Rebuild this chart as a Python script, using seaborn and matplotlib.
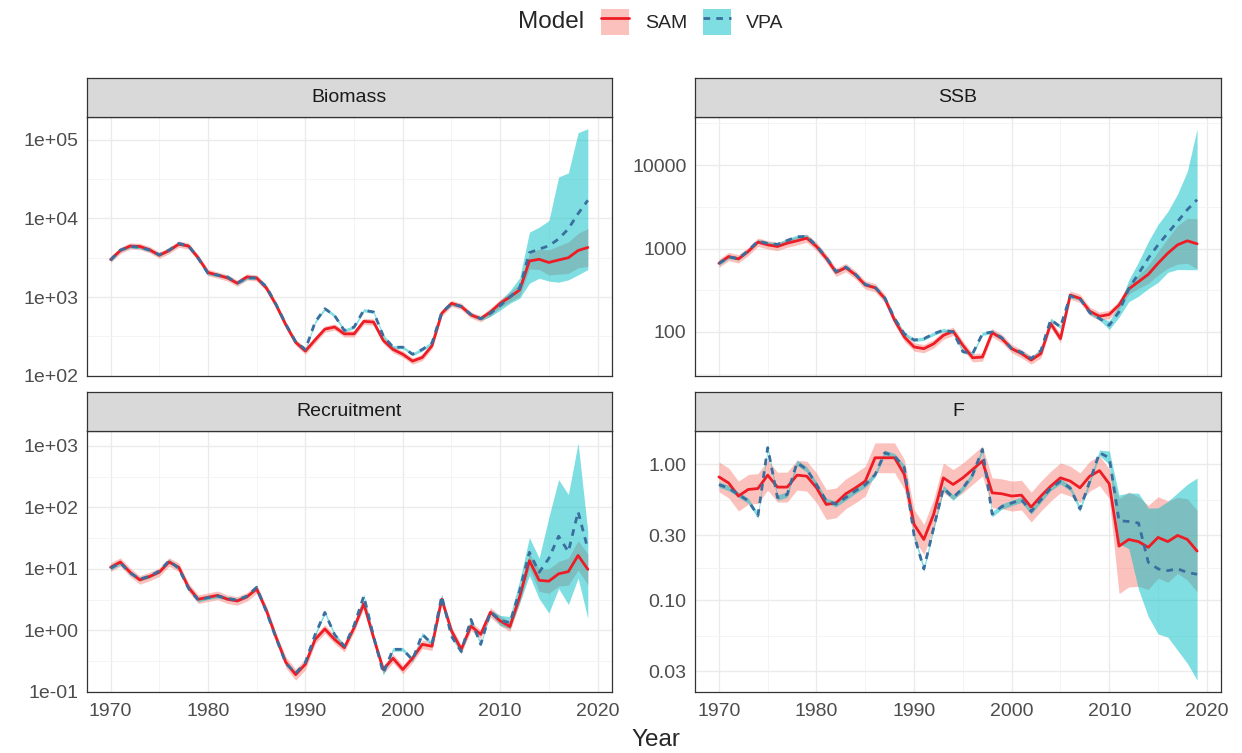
import numpy as np
import pandas as pd
import matplotlib
matplotlib.use("Agg")
import matplotlib.pyplot as plt
import seaborn as sns
from matplotlib.patches import Patch
from matplotlib.lines import Line2D
from matplotlib.legend_handler import HandlerTuple
from matplotlib.ticker import FixedLocator, FixedFormatter, NullFormatter

# ---------------- data ----------------
years = list(range(1970, 2020))
models = ["SAM", "VPA"]
panel_names = ["Biomass", "SSB", "Recruitment", "F"]

sam_biomass = [3000, 3900, 4450, 4400, 4000, 3400, 3900, 4700, 4450, 3150,
               2050, 1900, 1750, 1500, 1800, 1750, 1300, 790, 440, 265,
               205, 285, 390, 415, 340, 340, 490, 480, 280, 215,
               187, 153, 170, 240, 620, 830, 760, 590, 530, 645,
               830, 1000, 1230, 2870, 3020, 2750, 2960, 3160, 3900, 4270]
vpa_biomass = [2950, 3950, 4400, 4300, 3950, 3450, 3950, 4800, 4500, 3100,
               2000, 1900, 1800, 1500, 1750, 1750, 1350, 800, 450, 270,
               215, 480, 710, 580, 375, 415, 680, 645, 320, 230,
               230, 187, 215, 260, 640, 820, 760, 600, 530, 620,
               780, 1000, 1300, 3670, 4060, 4490, 5470, 7380, 11500, 17000]
sam_biomass_w = [0.04, 0.04, 0.04, 0.04, 0.04, 0.04, 0.04, 0.04, 0.04, 0.04,
                 0.04, 0.04, 0.04, 0.04, 0.04, 0.04, 0.04, 0.04, 0.04, 0.04,
                 0.04, 0.04, 0.04, 0.04, 0.04, 0.04, 0.04, 0.04, 0.04, 0.04,
                 0.04, 0.04, 0.04, 0.04, 0.04, 0.04, 0.04, 0.04, 0.04, 0.05,
                 0.05, 0.06, 0.08, 0.10, 0.13, 0.16, 0.18, 0.20, 0.22, 0.24]
vpa_biomass_lo = [0.02, 0.02, 0.02, 0.02, 0.02, 0.02, 0.02, 0.02, 0.02, 0.02,
                  0.02, 0.02, 0.02, 0.02, 0.02, 0.02, 0.02, 0.02, 0.02, 0.02,
                  0.02, 0.02, 0.02, 0.02, 0.02, 0.02, 0.02, 0.02, 0.02, 0.02,
                  0.02, 0.02, 0.02, 0.02, 0.02, 0.02, 0.02, 0.02, 0.02, 0.04,
                  0.06, 0.08, 0.13, 0.39, 0.37, 0.45, 0.55, 0.65, 0.78, 0.88]
vpa_biomass_hi = [0.02, 0.02, 0.02, 0.02, 0.02, 0.02, 0.02, 0.02, 0.02, 0.02,
                  0.02, 0.02, 0.02, 0.02, 0.02, 0.02, 0.02, 0.02, 0.02, 0.02,
                  0.02, 0.02, 0.02, 0.02, 0.02, 0.02, 0.02, 0.02, 0.02, 0.02,
                  0.02, 0.02, 0.02, 0.02, 0.02, 0.02, 0.02, 0.02, 0.02, 0.04,
                  0.06, 0.08, 0.13, 0.26, 0.28, 0.32, 0.79, 0.71, 1.03, 0.91]

sam_ssb = [665, 802, 751, 921, 1192, 1107, 1057, 1159, 1237, 1331,
           1057, 765, 518, 590, 482, 365, 339, 252, 138, 87,
           66, 63, 72, 91, 102, 69, 49, 50, 98, 83,
           63, 55, 46, 55, 126, 83, 277, 252, 177, 154,
           162, 210, 327, 400, 490, 665, 879, 1107, 1237, 1138]
vpa_ssb = [660, 790, 760, 940, 1230, 1150, 1120, 1250, 1380, 1400,
           1080, 780, 530, 600, 490, 370, 345, 255, 145, 95,
           80, 83, 95, 105, 100, 58, 55, 95, 100, 85,
           63, 57, 48, 60, 140, 115, 270, 250, 170, 145,
           120, 174, 330, 500, 765, 1107, 1530, 2107, 2925, 3850]
sam_ssb_w = [0.05, 0.05, 0.05, 0.05, 0.05, 0.05, 0.05, 0.05, 0.05, 0.05,
             0.05, 0.05, 0.05, 0.05, 0.05, 0.05, 0.05, 0.05, 0.05, 0.05,
             0.05, 0.05, 0.05, 0.05, 0.05, 0.05, 0.05, 0.05, 0.05, 0.05,
             0.05, 0.05, 0.05, 0.05, 0.05, 0.05, 0.05, 0.05, 0.05, 0.05,
             0.05, 0.05, 0.06, 0.08, 0.11, 0.14, 0.18, 0.23, 0.27, 0.30]
vpa_ssb_lo = [0.02, 0.02, 0.02, 0.02, 0.02, 0.02, 0.02, 0.02, 0.02, 0.02,
              0.02, 0.02, 0.02, 0.02, 0.02, 0.02, 0.02, 0.02, 0.02, 0.02,
              0.02, 0.02, 0.02, 0.02, 0.02, 0.02, 0.02, 0.02, 0.02, 0.02,
              0.02, 0.02, 0.02, 0.02, 0.02, 0.02, 0.02, 0.02, 0.02, 0.02,
              0.05, 0.064, 0.157, 0.27, 0.365, 0.45, 0.47, 0.575, 0.72, 0.84]
vpa_ssb_hi = [0.02, 0.02, 0.02, 0.02, 0.02, 0.02, 0.02, 0.02, 0.02, 0.02,
              0.02, 0.02, 0.02, 0.02, 0.02, 0.02, 0.02, 0.02, 0.02, 0.02,
              0.02, 0.02, 0.02, 0.02, 0.02, 0.02, 0.02, 0.02, 0.02, 0.02,
              0.02, 0.02, 0.02, 0.02, 0.02, 0.02, 0.02, 0.02, 0.02, 0.02,
              0.05, 0.08, 0.105, 0.14, 0.20, 0.245, 0.26, 0.33, 0.46, 0.85]

sam_rec = [10.6, 12.9, 8.8, 6.6, 7.5, 8.8, 12.9, 10.6, 5.0, 3.2,
           3.45, 3.7, 3.2, 3.0, 3.5, 4.7, 2.1, 0.76, 0.30, 0.19,
           0.28, 0.71, 1.05, 0.71, 0.52, 1.1, 2.7, 0.76, 0.23, 0.35,
           0.23, 0.35, 0.59, 0.55, 3.2, 0.98, 0.49, 1.17, 0.86, 1.96,
           1.42, 1.15, 3.5, 13.6, 6.5, 6.3, 8.3, 9.0, 16.5, 9.8]
vpa_rec = [10.2, 12.5, 8.6, 6.8, 7.6, 9.2, 13.5, 10.2, 4.8, 3.1,
           3.4, 3.6, 3.3, 3.1, 3.6, 5.0, 2.0, 0.74, 0.29, 0.20,
           0.30, 0.85, 1.95, 0.85, 0.55, 1.2, 3.6, 0.80, 0.20, 0.49,
           0.49, 0.33, 0.86, 0.60, 3.6, 0.80, 0.45, 1.5, 0.59, 2.0,
           1.45, 1.33, 4.4, 18.6, 8.8, 14.8, 34, 19, 85, 21]
sam_rec_w = [0.07, 0.07, 0.07, 0.07, 0.07, 0.07, 0.07, 0.07, 0.07, 0.07,
             0.07, 0.07, 0.07, 0.07, 0.07, 0.07, 0.07, 0.07, 0.09, 0.09,
             0.09, 0.07, 0.07, 0.07, 0.07, 0.07, 0.07, 0.07, 0.07, 0.07,
             0.07, 0.07, 0.07, 0.07, 0.07, 0.07, 0.07, 0.07, 0.07, 0.08,
             0.08, 0.08, 0.10, 0.12, 0.18, 0.20, 0.20, 0.22, 0.24, 0.25]
vpa_rec_lo = [0.03, 0.03, 0.03, 0.03, 0.03, 0.03, 0.03, 0.03, 0.03, 0.03,
              0.03, 0.03, 0.03, 0.03, 0.03, 0.03, 0.03, 0.03, 0.03, 0.03,
              0.03, 0.03, 0.03, 0.03, 0.03, 0.03, 0.03, 0.03, 0.03, 0.03,
              0.03, 0.03, 0.03, 0.03, 0.03, 0.03, 0.03, 0.03, 0.03, 0.03,
              0.08, 0.10, 0.20, 0.38, 0.43, 0.89, 0.85, 0.86, 1.08, 1.13]
vpa_rec_hi = [0.03, 0.03, 0.03, 0.03, 0.03, 0.03, 0.03, 0.03, 0.03, 0.03,
              0.03, 0.03, 0.03, 0.03, 0.03, 0.03, 0.03, 0.03, 0.03, 0.03,
              0.03, 0.03, 0.03, 0.03, 0.03, 0.03, 0.03, 0.03, 0.03, 0.03,
              0.03, 0.03, 0.03, 0.03, 0.03, 0.03, 0.03, 0.03, 0.03, 0.03,
              0.08, 0.10, 0.17, 0.24, 0.23, 0.67, 0.92, 0.93, 1.12, 0.28]

sam_f = [0.81, 0.73, 0.585, 0.654, 0.665, 0.834, 0.681, 0.681, 0.834, 0.82,
         0.673, 0.507, 0.521, 0.608, 0.673, 0.754, 1.12, 1.12, 1.12, 0.844,
         0.361, 0.28, 0.428, 0.797, 0.712, 0.797, 0.919, 1.06, 0.618, 0.608,
         0.585, 0.594, 0.485, 0.585, 0.692, 0.797, 0.754, 0.673, 0.82, 0.90,
         0.72, 0.25, 0.28, 0.27, 0.245, 0.29, 0.27, 0.30, 0.28, 0.23]
vpa_f = [0.71, 0.67, 0.60, 0.54, 0.42, 1.33, 0.57, 0.60, 1.03, 0.92,
         0.71, 0.54, 0.51, 0.57, 0.64, 0.71, 0.84, 1.22, 1.15, 0.95,
         0.30, 0.17, 0.34, 0.67, 0.57, 0.67, 0.84, 1.29, 0.43, 0.49,
         0.52, 0.55, 0.45, 0.55, 0.67, 0.75, 0.67, 0.47, 0.75, 1.22,
         1.12, 0.385, 0.38, 0.37, 0.19, 0.17, 0.165, 0.17, 0.16, 0.155]
sam_f_w = [0.11, 0.11, 0.11, 0.11, 0.11, 0.11, 0.11, 0.11, 0.11, 0.11,
           0.11, 0.11, 0.11, 0.11, 0.11, 0.11, 0.11, 0.11, 0.11, 0.11,
           0.11, 0.11, 0.11, 0.11, 0.11, 0.11, 0.11, 0.11, 0.11, 0.11,
           0.11, 0.11, 0.11, 0.11, 0.11, 0.11, 0.11, 0.11, 0.11, 0.11,
           0.11, 0.35, 0.35, 0.33, 0.31, 0.30, 0.30, 0.28, 0.30, 0.30]
vpa_f_lo = [0.02, 0.02, 0.02, 0.02, 0.02, 0.02, 0.02, 0.02, 0.02, 0.02,
            0.02, 0.02, 0.02, 0.02, 0.02, 0.02, 0.02, 0.02, 0.02, 0.02,
            0.02, 0.02, 0.02, 0.02, 0.02, 0.02, 0.02, 0.02, 0.02, 0.02,
            0.02, 0.02, 0.02, 0.02, 0.02, 0.02, 0.02, 0.02, 0.02, 0.02,
            0.05, 0.17, 0.20, 0.49, 0.40, 0.48, 0.49, 0.60, 0.67, 0.78]
vpa_f_hi = [0.02, 0.02, 0.02, 0.02, 0.02, 0.02, 0.02, 0.02, 0.02, 0.02,
            0.02, 0.02, 0.02, 0.02, 0.02, 0.02, 0.02, 0.02, 0.02, 0.02,
            0.02, 0.02, 0.02, 0.02, 0.02, 0.02, 0.02, 0.02, 0.02, 0.02,
            0.02, 0.02, 0.02, 0.02, 0.02, 0.02, 0.02, 0.02, 0.02, 0.02,
            0.05, 0.19, 0.21, 0.22, 0.40, 0.45, 0.51, 0.56, 0.65, 0.71]

x_ticks = [1970, 1980, 1990, 2000, 2010, 2020]
y_ticks = {
    "Biomass": ([1e2, 1e3, 1e4, 1e5], ["1e+02", "1e+03", "1e+04", "1e+05"]),
    "SSB": ([100, 1000, 10000], ["100", "1000", "10000"]),
    "Recruitment": ([1e-1, 1e0, 1e1, 1e2, 1e3], ["1e-01", "1e+00", "1e+01", "1e+02", "1e+03"]),
    "F": ([0.03, 0.1, 0.3, 1.0], ["0.03", "0.10", "0.30", "1.00"]),
}

series = {
    "Biomass": {"SAM": (sam_biomass, sam_biomass_w, sam_biomass_w),
                "VPA": (vpa_biomass, vpa_biomass_lo, vpa_biomass_hi)},
    "SSB": {"SAM": (sam_ssb, sam_ssb_w, sam_ssb_w),
            "VPA": (vpa_ssb, vpa_ssb_lo, vpa_ssb_hi)},
    "Recruitment": {"SAM": (sam_rec, sam_rec_w, sam_rec_w),
                    "VPA": (vpa_rec, vpa_rec_lo, vpa_rec_hi)},
    "F": {"SAM": (sam_f, sam_f_w, sam_f_w),
          "VPA": (vpa_f, vpa_f_lo, vpa_f_hi)},
}

rows = []
for p in panel_names:
    for m in models:
        est, wlo, whi = series[p][m]
        for y, v, a, b in zip(years, est, wlo, whi):
            rows.append({"panel": p, "Model": m, "Year": y, "value": v,
                         "lo": v / 10 ** a, "hi": v * 10 ** b})
df = pd.DataFrame(rows)

# ---------------- style ----------------
sns.set_theme(style="white")
plt.rcParams["font.family"] = ["Liberation Sans", "DejaVu Sans"]

line_col = {"SAM": "#EE1C25", "VPA": "#3A6E9F"}
fill_col = {"SAM": "#F8766D", "VPA": "#00BFC4"}
fill_alpha = {"SAM": 0.45, "VPA": 0.5}
dash_pat = {"SAM": "", "VPA": (2.4, 2.2)}

W, H = 1242, 753
fig = plt.figure(figsize=(W / 100, H / 100), dpi=100)


def rect(x0, y0, x1, y1):
    return [x0 / W, 1 - y1 / H, (x1 - x0) / W, (y1 - y0) / H]


cols = [(86.7, 611.7), (695.0, 1221.0)]
rows_px = [((78, 117), (117, 376)), ((392, 431), (431, 692))]
layout = {"Biomass": (0, 0), "SSB": (0, 1), "Recruitment": (1, 0), "F": (1, 1)}

border = "#333333"
for p in panel_names:
    r, c = layout[p]
    (sy0, sy1), (py0, py1) = rows_px[r]
    x0, x1 = cols[c]
    ax = fig.add_axes(rect(x0, py0, x1, py1))
    ax.set_yscale("log")
    sub = df[df.panel == p]

    for m in models:
        s = sub[sub.Model == m]
        ax.fill_between(s.Year, s.lo, s.hi, color=fill_col[m],
                        alpha=fill_alpha[m], lw=0, zorder=2)
    sns.lineplot(data=sub, x="Year", y="value", hue="Model", style="Model",
                 hue_order=models, style_order=models, palette=line_col,
                 dashes=dash_pat, linewidth=2.0, errorbar=None, legend=False,
                 ax=ax, zorder=3)

    # limits (ggplot style 5% expansion)
    lmin = np.log10(sub.lo.min())
    lmax = np.log10(sub.hi.max())
    pad = 0.05 * (lmax - lmin)
    ax.set_ylim(10 ** (lmin - pad), 10 ** (lmax + pad))
    ax.set_xlim(1970 - 0.05 * 49, 2019 + 0.05 * 49)

    maj, labs = y_ticks[p]
    lm = np.log10(maj)
    ext = np.concatenate([[lm[0] - (lm[1] - lm[0])], lm, [lm[-1] + (lm[-1] - lm[-2])]])
    minor = 10 ** ((ext[:-1] + ext[1:]) / 2)
    ax.yaxis.set_major_locator(FixedLocator(maj))
    ax.yaxis.set_major_formatter(FixedFormatter(labs))
    ax.yaxis.set_minor_locator(FixedLocator(minor))
    ax.yaxis.set_minor_formatter(NullFormatter())
    ax.xaxis.set_major_locator(FixedLocator(x_ticks))
    ax.xaxis.set_minor_locator(FixedLocator([1965, 1975, 1985, 1995, 2005, 2015, 2025]))
    ax.xaxis.set_minor_formatter(NullFormatter())

    ax.set_axisbelow(True)
    ax.grid(True, which="major", color="#EBEBEB", lw=1.0)
    ax.grid(True, which="minor", color="#F2F2F2", lw=0.6)
    ax.set_facecolor("white")
    for sp in ax.spines.values():
        sp.set_color(border)
        sp.set_linewidth(0.9)
        sp.set_zorder(5)
    ax.tick_params(which="major", direction="out", length=3.6, width=0.8,
                   color=border, labelsize=14, labelcolor="#4D4D4D", pad=2.5)
    ax.tick_params(axis="x", which="major", pad=4)
    ax.tick_params(which="minor", length=0)
    if r == 0:
        ax.tick_params(axis="x", which="major", length=0, labelbottom=False)
    ax.set_xlabel("")
    ax.set_ylabel("")

    # facet strip
    sax = fig.add_axes(rect(x0, sy0, x1, sy1))
    sax.set_facecolor("#D9D9D9")
    sax.set_xticks([])
    sax.set_yticks([])
    for sp in sax.spines.values():
        sp.set_color(border)
        sp.set_linewidth(0.9)
    sax.text(0.5, 0.5, p, ha="center", va="center", fontsize=14,
             color="#1A1A1A", transform=sax.transAxes)

# axis title
fig.text(656 / W, 1 - 740 / H, "Year", ha="center", va="center", fontsize=17.5)

# legend
fig.text(518 / W, 1 - 22 / H, "Model", ha="left", va="center", fontsize=17.5)
handles = []
for m in models:
    patch = Patch(facecolor=fill_col[m], alpha=fill_alpha[m], edgecolor="none")
    if m == "SAM":
        ln = Line2D([], [], color=line_col[m], lw=2.0)
    else:
        ln = Line2D([], [], color=line_col[m], lw=2.0, linestyle=(0, dash_pat[m]))
    handles.append((patch, ln))
fig.legend(handles, models, loc="center left",
           bbox_to_anchor=(601 / W, 1 - 22 / H), ncol=2, frameon=False,
           handler_map={tuple: HandlerTuple(ndivide=1)}, fontsize=14,
           handlelength=1.45, handleheight=1.75, handletextpad=0.8,
           columnspacing=0.8, borderpad=0, borderaxespad=0)

fig.savefig("out.png", dpi=100)
